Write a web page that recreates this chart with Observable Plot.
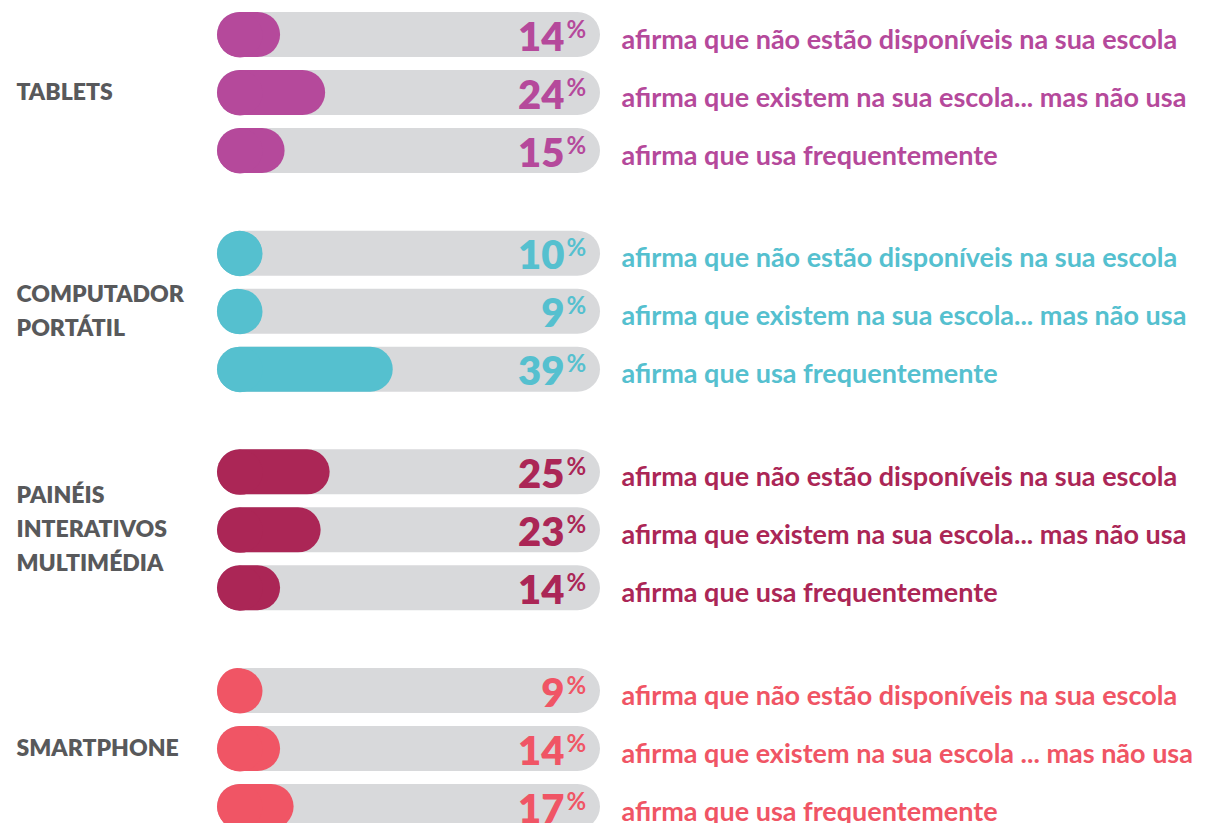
<!DOCTYPE html>
<html>
<head>
<meta charset="utf-8">
<script src="https://cdn.jsdelivr.net/npm/d3@7"></script>
<script src="https://cdn.jsdelivr.net/npm/@observablehq/plot@0.6"></script>
<style>
  html, body { margin: 0; padding: 0; background: #fff; overflow: hidden; }
  svg { display: block; }
</style>
</head>
<body>
<div id="chart"></div>
<script>
// Categories (device groups) and their colours
const groups = ["TABLETS", "COMPUTADOR\nPORTÁTIL", "PAINÉIS\nINTERATIVOS\nMULTIMÉDIA", "SMARTPHONE"];
const groupColors = ["#b5499b", "#55c0cf", "#ab2656", "#f05565"];

// Row keys within each group
const rowKeys = ["naoDisponivel", "existeNaoUsa", "usaFrequente"];

// Values (%) per group, in rowKeys order
const tabletsValues = [14, 24, 15];
const computadorValues = [10, 9, 39];
const paineisValues = [25, 23, 14];
const smartphoneValues = [9, 14, 17];

// Statement labels per group
const statementsDefault = [
  "afirma que não estão disponíveis na sua escola",
  "afirma que existem na sua escola... mas não usa",
  "afirma que usa frequentemente"
];
const statementsSmartphone = [
  "afirma que não estão disponíveis na sua escola",
  "afirma que existem na sua escola ... mas não usa",
  "afirma que usa frequentemente"
];

// Length of the grey track, in the same % units as the values
const trackMax = 85;

const valuesByGroup = [tabletsValues, computadorValues, paineisValues, smartphoneValues];
const statementsByGroup = [statementsDefault, statementsDefault, statementsDefault, statementsSmartphone];

const data = groups.flatMap((g, i) => rowKeys.map((r, j) => ({
  group: g,
  row: r,
  value: valuesByGroup[i][j],
  statement: statementsByGroup[i][j]
})));

const font = "Lato, 'Open Sans', sans-serif";

const chart = Plot.plot({
  width: 1207,
  height: 829,
  marginTop: 12,
  marginBottom: 0,
  marginLeft: 217,
  marginRight: 607,
  style: { fontFamily: font, background: "transparent" },
  x: { domain: [0, trackMax], axis: null },
  y: { domain: rowKeys, axis: null, paddingInner: 0.224, paddingOuter: 0, round: false },
  fy: { domain: groups, axis: null, paddingInner: 0.264, paddingOuter: 0, round: false },
  color: { domain: groups, range: groupColors },
  marks: [
    // grey track
    Plot.barX(data, { x1: d => 0, x2: d => trackMax, y: "row", fy: "group", fill: "#d8d9db", rx: 22.5 }),
    // coloured value bar
    Plot.barX(data, { x1: d => 0, x2: "value", y: "row", fy: "group", fill: "group", rx: 22.5 }),
    // rounded start cap of the value bar
    Plot.dot(data, { x: d => 0, y: "row", fy: "group", r: 22.5, dx: 22.5, fill: "group", stroke: null }),
    // percentage number
    Plot.text(data, {
      y: "row", fy: "group", text: d => String(d.value), fill: "group",
      frameAnchor: "right", textAnchor: "end", dx: -36, dy: 3,
      fontSize: 40, fontWeight: 800
    }),
    // percent sign
    Plot.text(data, {
      y: "row", fy: "group", text: d => "%", fill: "group",
      frameAnchor: "right", textAnchor: "start", dx: -34, dy: -5,
      fontSize: 24, fontWeight: 700
    }),
    // statements
    Plot.text(data, {
      y: "row", fy: "group", text: "statement", fill: "group",
      frameAnchor: "right", textAnchor: "start", dx: 21, dy: 5,
      fontSize: 27, fontWeight: 700
    }),
    // group labels
    Plot.text(groups, {
      fy: d => d, y: d => rowKeys[1], text: d => d,
      frameAnchor: "left", textAnchor: "start", lineAnchor: "middle", dx: -201, dy: -4,
      fill: "#58595b", fontSize: 23, fontWeight: 800, lineHeight: 1.48
    })
  ]
});

document.getElementById("chart").appendChild(chart);
</script>
</body>
</html>
